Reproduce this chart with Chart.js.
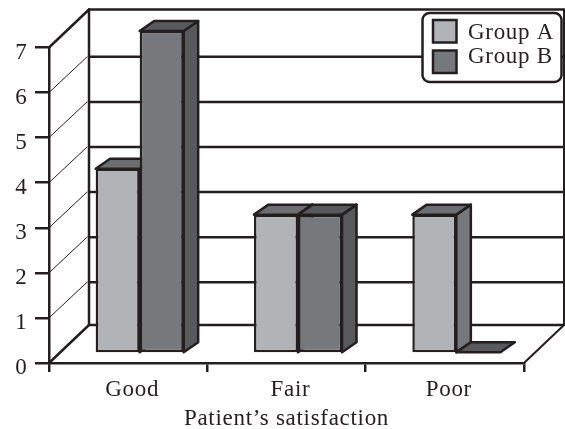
<!DOCTYPE html>
<html>
<head>
<meta charset="utf-8">
<title>Patient's satisfaction</title>
<script src="https://cdn.jsdelivr.net/npm/chart.js@4"></script>
<style>
    html, body { margin: 0; padding: 0; background: #fff; }
    canvas { display: block; }
</style>
</head>
<body>
<canvas id="chartBar" width="565" height="429"></canvas>
<script>
const categories = ["Good", "Fair", "Poor"];
const groupA = [4, 3, 3];
const groupB = [7, 3, 0];
const yTicks = [0, 1, 2, 3, 4, 5, 6, 7];

const ink = "#231f20";
const serif = "'Liberation Serif', serif";

// faces of the boxes, front colour goes through the dataset
const faces = [
    { top: "#6d6e71", side: "#77787b" },
    { top: "#58595b", side: "#58595b" },
];

// how far the back wall and the boxes sit behind the front axis
const wall = { dx: 40, dy: -38 };
const gridWall = { dx: 38, dy: -35.7 };
const barShift = { dx: 11.5, dy: -10.7 };
const barDepth = { dx: 14.5, dy: -10 };

function line(ctx, x1, y1, x2, y2, width) {
    ctx.lineWidth = width;
    ctx.beginPath();
    ctx.moveTo(x1, y1);
    ctx.lineTo(x2, y2);
    ctx.stroke();
}

function face(ctx, points, fill) {
    ctx.beginPath();
    points.forEach((p, i) => i ? ctx.lineTo(p[0], p[1]) : ctx.moveTo(p[0], p[1]));
    ctx.closePath();
    ctx.fillStyle = fill;
    ctx.fill();
    ctx.lineWidth = 2.5;
    ctx.lineJoin = "round";
    ctx.stroke();
}

const box3d = {
    id: "box3d",
    beforeDraw(chart) {
        chart.ctx.letterSpacing = "0.7px";
    },
    beforeDatasetsDraw(chart) {
        const ctx = chart.ctx;
        const y = chart.scales.y;
        const left = chart.chartArea.left, right = chart.chartArea.right;
        ctx.save();
        ctx.strokeStyle = ink;
        ctx.lineCap = "round";
        yTicks.forEach(v => {
            const py = y.getPixelForValue(v);
            if (v === 0 || v === 7) {
                line(ctx, left, py, left + wall.dx, py + wall.dy, 2.5);
                line(ctx, left + wall.dx, py + wall.dy, right + wall.dx, py + wall.dy, 2.5);
            } else {
                line(ctx, left, py, left + gridWall.dx, py + gridWall.dy, 1);
                line(ctx, left + wall.dx, py + gridWall.dy, right + wall.dx, py + gridWall.dy, 2.5);
            }
        });
        const y0 = y.getPixelForValue(0), y7 = y.getPixelForValue(7);
        line(ctx, left + wall.dx, y7 + wall.dy, left + wall.dx, y0 + wall.dy, 2.5);
        line(ctx, right + wall.dx, y7 + wall.dy, right + wall.dx, y0 + wall.dy, 2);
        line(ctx, right, y0, right + wall.dx, y0 + wall.dy, 2);

        // depth faces go in before any front, A first so B covers it
        ctx.translate(barShift.dx, barShift.dy);
        const d = barDepth;
        chart.data.datasets.forEach((ds, i) => {
            chart.getDatasetMeta(i).data.forEach(bar => {
                const l = bar.x - bar.width / 2, r = bar.x + bar.width / 2;
                const t = bar.y, b = bar.base;
                if (b > t) {
                    face(ctx, [[r, t], [r + d.dx, t + d.dy], [r + d.dx, b + d.dy], [r, b]], faces[i].side);
                }
                face(ctx, [[l, t], [l + d.dx, t + d.dy], [r + d.dx, t + d.dy], [r, t]], faces[i].top);
            });
        });
        ctx.restore();
    },
    beforeDatasetDraw(chart) {
        chart.ctx.save();
        chart.ctx.translate(barShift.dx, barShift.dy);
    },
    afterDatasetDraw(chart) {
        chart.ctx.restore();
    },
    afterDraw(chart) {
        const ctx = chart.ctx;
        ctx.save();
        ctx.strokeStyle = ink;
        ctx.lineWidth = 2.5;
        ctx.fillStyle = "#fff";
        ctx.beginPath();
        ctx.roundRect(422.5, 13, 139, 69, 7);
        ctx.fill();
        ctx.stroke();
        ctx.font = "23px " + serif;
        ctx.textBaseline = "alphabetic";
        chart.data.datasets.forEach((ds, i) => {
            const top = 20 + i * 30.5;
            ctx.fillStyle = ds.backgroundColor;
            ctx.fillRect(433, top, 23.5, 22.5);
            ctx.strokeRect(433, top, 23.5, 22.5);
            ctx.fillStyle = ink;
            ctx.fillText(ds.label, 468, 39 + i * 23.7);
        });
        ctx.restore();
    },
};

const config = {
    type: "bar",
    data: {
        labels: categories,
        datasets: [
            { label: "Group A", data: groupA, backgroundColor: "#b1b3b6", yAxisID: "yBars" },
            { label: "Group B", data: groupB, backgroundColor: "#77787b", yAxisID: "yBars" },
        ],
    },
    options: {
        responsive: false,
        animation: false,
        clip: false,
        categoryPercentage: 0.556,
        barPercentage: 1,
        borderColor: ink,
        borderWidth: 2.5,
        borderSkipped: false,
        layout: { padding: { top: 47.5, right: 41 } },
        plugins: {
            legend: { display: false },
            tooltip: { enabled: false },
        },
        scales: {
            x: {
                afterFit: scale => { scale.height = 66; },
                border: { color: ink, width: 2.5 },
                grid: { drawOnChartArea: false, color: ink, lineWidth: 2.5, tickLength: 9 },
                ticks: {
                    color: ink,
                    font: { family: serif, size: 23 },
                    padding: 4,
                    labelOffset: 4,
                    maxRotation: 0,
                },
                title: {
                    display: true,
                    text: "Patient’s satisfaction",
                    color: ink,
                    font: { family: serif, size: 23 },
                    padding: { top: 2, bottom: -4 },
                },
            },
            y: {
                min: 0,
                max: 7,
                afterFit: scale => { scale.width = 49; },
                afterBuildTicks: scale => { scale.ticks = yTicks.map(v => ({ value: v })); },
                border: { color: ink, width: 2.5 },
                grid: { drawOnChartArea: false, color: ink, lineWidth: 2.5, tickLength: 14 },
                ticks: {
                    color: ink,
                    font: { family: serif, size: 23 },
                    padding: 7.5,
                    labelOffset: 5,
                },
            },
            // boxes stand a little nearer than the axis, so they come out slightly taller
            yBars: {
                display: false,
                min: 0,
                max: 6.875,
            },
        },
    },
    plugins: [box3d],
};

var chartBar = new Chart(document.getElementById("chartBar"), config);
</script>
</body>
</html>
